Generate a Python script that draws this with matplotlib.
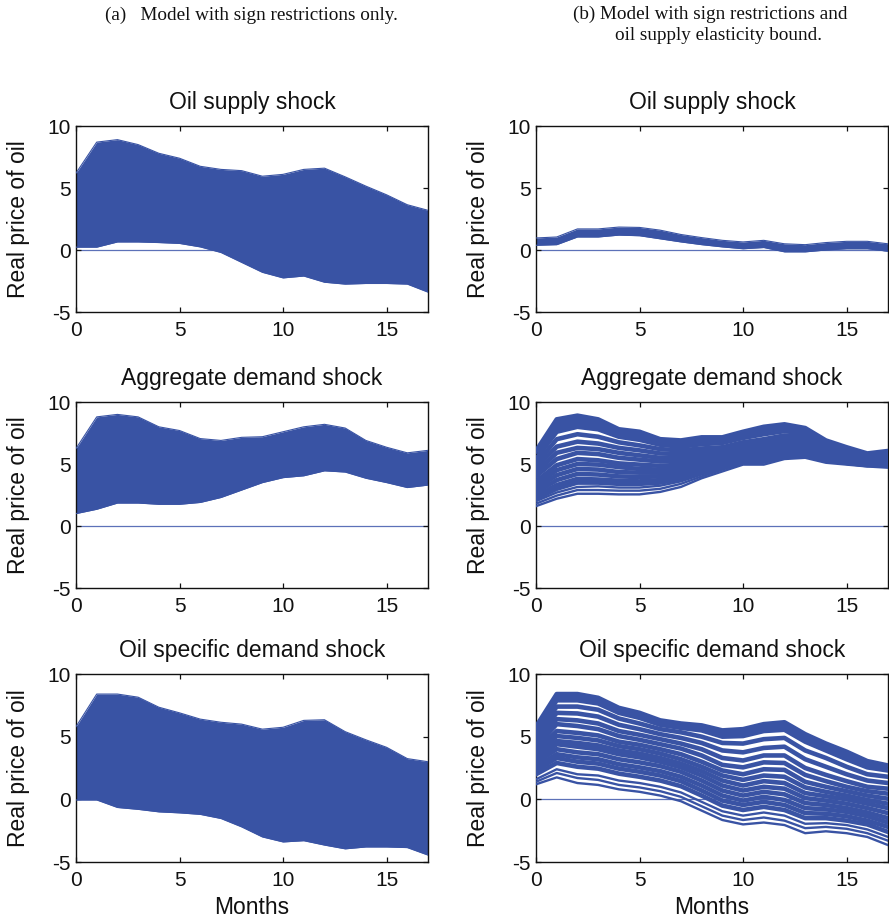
import numpy as np
import matplotlib
matplotlib.use("Agg")
import matplotlib.pyplot as plt

plt.rcParams['font.family'] = ['Liberation Sans', 'DejaVu Sans']
plt.rcParams['axes.unicode_minus'] = False

months = list(range(18))

# (a) sign restrictions only: envelopes of the accepted impulse responses
a_supply_upper = [6.2, 8.7, 8.9, 8.5, 7.8, 7.4, 6.75, 6.5, 6.4, 5.95, 6.1, 6.5, 6.6, 5.9, 5.15, 4.45, 3.65, 3.2]
a_supply_lower = [0.23, 0.23, 0.65, 0.65, 0.6, 0.53, 0.25, -0.2, -1.0, -1.8, -2.25, -2.1, -2.6, -2.75, -2.7, -2.7, -2.75, -3.4]
a_aggd_upper = [6.25, 8.8, 9.0, 8.8, 8.0, 7.7, 7.05, 6.9, 7.15, 7.2, 7.6, 8.0, 8.2, 7.9, 6.9, 6.35, 5.9, 6.1]
a_aggd_lower = [1.0, 1.35, 1.85, 1.85, 1.75, 1.75, 1.9, 2.3, 2.9, 3.5, 3.9, 4.05, 4.45, 4.35, 3.85, 3.5, 3.1, 3.3]
a_oild_upper = [5.8, 8.4, 8.4, 8.15, 7.35, 6.9, 6.4, 6.15, 6.0, 5.6, 5.75, 6.3, 6.35, 5.4, 4.75, 4.15, 3.25, 3.0]
a_oild_lower = [-0.05, -0.05, -0.65, -0.8, -1.0, -1.08, -1.2, -1.53, -2.2, -3.0, -3.4, -3.3, -3.65, -3.95, -3.8, -3.8, -3.85, -4.45]

# (b) with oil supply elasticity bound
b_supply_upper = [0.97, 1.05, 1.7, 1.7, 1.85, 1.82, 1.6, 1.25, 1.0, 0.78, 0.65, 0.78, 0.5, 0.43, 0.6, 0.7, 0.7, 0.5]
b_supply_lower = [0.38, 0.43, 1.05, 1.05, 1.2, 1.15, 0.9, 0.65, 0.43, 0.25, 0.1, 0.2, -0.15, -0.15, 0.0, 0.1, 0.1, -0.1]

b_aggd_lines = [
    [1.6, 2.2, 2.6, 2.6, 2.55, 2.55, 2.75, 3.15, 3.85, 4.4, 4.95, 4.95, 5.4, 5.5, 5.1, 4.95, 4.8, 4.7],
    [1.8, 2.45, 2.9, 2.9, 2.85, 2.85, 3.0, 3.4, 4.0, 4.55, 5.05, 5.1, 5.5, 5.6, 5.2, 5.0, 4.85, 4.8],
    [2.0, 2.7, 3.15, 3.2, 3.1, 3.1, 3.25, 3.6, 4.15, 4.65, 5.15, 5.2, 5.6, 5.7, 5.3, 5.05, 4.9, 4.9],
    [2.2, 3.0, 3.5, 3.5, 3.4, 3.4, 3.5, 3.8, 4.3, 4.75, 5.25, 5.3, 5.7, 5.8, 5.35, 5.1, 4.9, 5.0],
    [2.4, 3.3, 3.8, 3.75, 3.65, 3.6, 3.7, 4.0, 4.45, 4.9, 5.35, 5.4, 5.85, 5.9, 5.45, 5.15, 4.95, 5.1],
    [2.7, 3.7, 4.2, 4.15, 4.0, 3.95, 4.0, 4.2, 4.6, 5.0, 5.45, 5.55, 6.0, 6.05, 5.5, 5.2, 4.95, 5.2],
    [3.0, 4.1, 4.6, 4.55, 4.35, 4.3, 4.3, 4.45, 4.8, 5.15, 5.6, 5.7, 6.1, 6.2, 5.6, 5.3, 5.0, 5.3],
    [3.3, 4.5, 5.0, 4.95, 4.75, 4.6, 4.55, 4.7, 5.0, 5.3, 5.75, 5.85, 6.3, 6.35, 5.7, 5.35, 5.05, 5.4],
    [3.6, 4.9, 5.4, 5.3, 5.05, 4.95, 4.85, 4.95, 5.2, 5.5, 5.9, 6.0, 6.4, 6.5, 5.8, 5.45, 5.1, 5.45],
    [4.0, 5.4, 5.9, 5.8, 5.5, 5.35, 5.2, 5.25, 5.45, 5.7, 6.1, 6.2, 6.6, 6.65, 5.95, 5.5, 5.2, 5.55],
    [4.3, 5.9, 6.3, 6.2, 5.9, 5.7, 5.5, 5.5, 5.7, 5.9, 6.3, 6.45, 6.8, 6.8, 6.05, 5.6, 5.25, 5.6],
    [4.7, 6.4, 6.8, 6.65, 6.3, 6.1, 5.85, 5.8, 5.95, 6.1, 6.5, 6.7, 7.0, 6.95, 6.2, 5.7, 5.3, 5.7],
    [5.0, 7.0, 7.4, 7.2, 6.75, 6.5, 6.2, 6.1, 6.25, 6.35, 6.75, 7.0, 7.3, 7.2, 6.4, 5.85, 5.45, 5.8],
    [5.4, 7.6, 8.0, 7.8, 7.2, 6.95, 6.55, 6.4, 6.6, 6.7, 7.1, 7.4, 7.65, 7.45, 6.6, 6.05, 5.6, 5.9],
    [6.05, 8.6, 8.9, 8.6, 7.8, 7.6, 7.0, 6.9, 7.15, 7.15, 7.6, 8.0, 8.2, 7.9, 6.9, 6.35, 5.85, 6.05],
]

b_oild_lines = [
    [1.2, 1.75, 1.3, 1.15, 0.8, 0.6, 0.3, -0.15, -0.9, -1.65, -2.0, -1.85, -2.05, -2.7, -2.55, -2.7, -3.0, -3.65],
    [1.4, 2.1, 1.7, 1.55, 1.15, 0.95, 0.65, 0.2, -0.55, -1.3, -1.65, -1.45, -1.7, -2.3, -2.2, -2.35, -2.7, -3.3],
    [1.6, 2.4, 2.0, 1.9, 1.5, 1.3, 1.0, 0.55, -0.2, -0.95, -1.3, -1.05, -1.3, -1.95, -1.9, -2.05, -2.4, -3.0],
    [2.0, 2.9, 2.6, 2.45, 2.05, 1.8, 1.5, 1.05, 0.3, -0.5, -0.85, -0.6, -0.85, -1.5, -1.5, -1.7, -2.0, -2.6],
    [2.3, 3.3, 3.0, 2.85, 2.45, 2.2, 1.9, 1.45, 0.7, -0.1, -0.45, -0.2, -0.45, -1.1, -1.15, -1.35, -1.7, -2.2],
    [2.6, 3.6, 3.35, 3.2, 2.8, 2.55, 2.25, 1.8, 1.1, 0.3, -0.1, 0.2, -0.05, -0.7, -0.8, -1.0, -1.35, -1.85],
    [2.9, 4.0, 3.75, 3.6, 3.2, 2.95, 2.65, 2.2, 1.5, 0.7, 0.3, 0.6, 0.4, -0.3, -0.45, -0.7, -1.05, -1.5],
    [3.1, 4.4, 4.2, 4.0, 3.6, 3.35, 3.0, 2.55, 1.9, 1.1, 0.7, 1.0, 0.85, 0.1, -0.1, -0.35, -0.7, -1.1],
    [3.4, 4.65, 4.5, 4.3, 3.9, 3.65, 3.3, 2.85, 2.25, 1.5, 1.1, 1.45, 1.3, 0.5, 0.25, 0.0, -0.35, -0.7],
    [3.7, 5.05, 4.9, 4.7, 4.25, 4.0, 3.65, 3.2, 2.6, 1.9, 1.55, 1.9, 1.8, 0.95, 0.6, 0.3, -0.05, -0.35],
    [3.9, 5.45, 5.3, 5.1, 4.6, 4.35, 4.0, 3.6, 3.0, 2.3, 2.0, 2.4, 2.35, 1.4, 1.0, 0.65, 0.3, 0.05],
    [4.2, 6.0, 5.85, 5.6, 5.05, 4.75, 4.4, 4.05, 3.5, 2.75, 2.55, 2.95, 2.9, 1.95, 1.45, 1.0, 0.65, 0.45],
    [4.5, 6.4, 6.3, 6.05, 5.45, 5.15, 4.8, 4.45, 4.0, 3.3, 3.1, 3.5, 3.5, 2.5, 1.95, 1.45, 1.0, 0.85],
    [4.8, 6.9, 6.85, 6.6, 5.95, 5.6, 5.2, 4.9, 4.5, 3.9, 3.75, 4.1, 4.2, 3.2, 2.6, 2.0, 1.5, 1.3],
    [5.1, 7.4, 7.4, 7.15, 6.45, 6.05, 5.6, 5.35, 5.0, 4.5, 4.45, 4.8, 4.9, 3.9, 3.3, 2.6, 2.0, 1.8],
    [5.4, 7.9, 7.9, 7.65, 6.9, 6.5, 5.95, 5.7, 5.5, 5.0, 5.05, 5.45, 5.55, 4.6, 3.9, 3.2, 2.55, 2.3],
    [5.8, 8.4, 8.4, 8.1, 7.3, 6.9, 6.3, 6.05, 5.9, 5.5, 5.6, 6.0, 6.15, 5.2, 4.45, 3.8, 3.05, 2.7],
]

titles = ["Oil supply shock", "Aggregate demand shock", "Oil specific demand shock"]
ylabel = "Real price of oil"
xlabel = "Months"
yticks = [-5, 0, 5, 10]
xticks = [0, 5, 10, 15]
header_a = "(a)   Model with sign restrictions only."
header_b1 = "(b) Model with sign restrictions and"
header_b2 = "oil supply elasticity bound."

BLUE = "#3953a4"
ZERO = "#5c71b8"

fig = plt.figure(figsize=(8.89, 9.21), dpi=100)
W, H = 889, 921
col_left = [76, 536]
col_w = 352
row_top = [126, 402, 674]
row_h = [186, 186, 188]

axes = {}
for r in range(3):
    for c in range(2):
        ax = fig.add_axes([col_left[c] / W, 1 - (row_top[r] + row_h[r]) / H,
                           col_w / W, row_h[r] / H])
        axes[(r, c)] = ax


def style(ax, r):
    ax.set_xlim(0, 17)
    ax.set_ylim(-5, 10)
    ax.set_xticks(xticks)
    ax.set_yticks(yticks)
    ax.tick_params(direction='in', top=True, right=True, length=3.5, width=0.9,
                   labelsize=15, colors='#111111')
    ax.tick_params(axis='x', pad=6.5)
    ax.tick_params(axis='y', pad=4)
    for s in ax.spines.values():
        s.set_linewidth(1.0)
        s.set_color('#111111')
    ax.set_title(titles[r], fontsize=16.5, pad=12.5, color='#111111')
    ax.set_ylabel(ylabel, fontsize=16.5, labelpad=12, color='#111111')
    if r == 2:
        ax.set_xlabel(xlabel, fontsize=16.5, labelpad=4, color='#111111')


def zero_line(ax):
    ax.plot(months, [0] * len(months), color=ZERO, lw=0.9, zorder=1)


# Column (a): dense bands
a_bands = [(a_supply_upper, a_supply_lower), (a_aggd_upper, a_aggd_lower),
           (a_oild_upper, a_oild_lower)]
for r, (up, lo) in enumerate(a_bands):
    ax = axes[(r, 0)]
    zero_line(ax)
    ax.fill_between(months, lo, up, color=BLUE, lw=0, zorder=2)
    ax.plot(months, up, color=BLUE, lw=0.8, zorder=3)
    ax.plot(months, lo, color=BLUE, lw=0.8, zorder=3)
    style(ax, r)

# Column (b)
ax = axes[(0, 1)]
zero_line(ax)
ax.fill_between(months, b_supply_lower, b_supply_upper, color=BLUE, lw=0, zorder=2)
ax.plot(months, b_supply_upper, color=BLUE, lw=0.8, zorder=3)
ax.plot(months, b_supply_lower, color=BLUE, lw=0.8, zorder=3)
style(ax, 0)

for r, lines, dense_from in [(1, b_aggd_lines, 13), (2, b_oild_lines, 15)]:
    ax = axes[(r, 1)]
    zero_line(ax)
    ax.fill_between(months, lines[dense_from], lines[-1], color=BLUE, lw=0, zorder=2)
    for k, ln in enumerate(lines):
        ax.plot(months, ln, color=BLUE, lw=3.3 if k >= 3 else 1.7, zorder=3)
    style(ax, r)

serif = ['Liberation Serif', 'DejaVu Serif']
fig.text(105 / W, 1 - 15 / H, header_a, family=serif, fontsize=13.8, ha='left', va='center', color='#111111')
fig.text(573 / W, 1 - 14 / H, header_b1, family=serif, fontsize=13.8, ha='left', va='center', color='#111111')
fig.text(615 / W, 1 - 35 / H, header_b2, family=serif, fontsize=13.8, ha='left', va='center', color='#111111')

fig.savefig("out.png", dpi=100)
